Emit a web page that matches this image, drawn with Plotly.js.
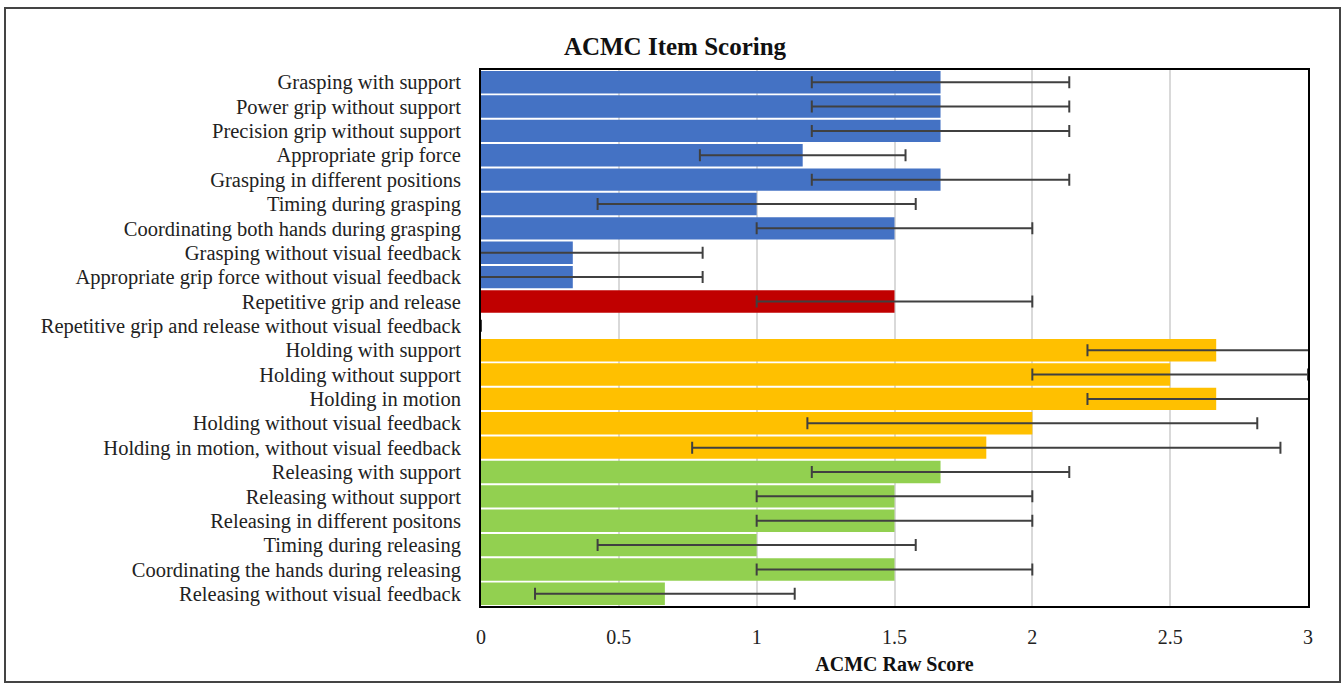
<!DOCTYPE html>
<html>
<head>
<meta charset="utf-8">
<script src="https://cdn.plot.ly/plotly-3.0.1.min.js"></script>
<style>html,body{margin:0;padding:0;background:#fff;}#chart{width:1343px;height:686px;}</style>
</head>
<body>
<div id="chart"></div>
<script>
const categories = [
  "Grasping with support",
  "Power grip without support",
  "Precision grip without support",
  "Appropriate grip force",
  "Grasping in different positions",
  "Timing during grasping",
  "Coordinating both hands during grasping",
  "Grasping without visual feedback",
  "Appropriate grip force without visual feedback",
  "Repetitive grip and release",
  "Repetitive grip and release without visual feedback",
  "Holding with support",
  "Holding without support",
  "Holding in motion",
  "Holding without visual feedback",
  "Holding in motion, without visual feedback",
  "Releasing with support",
  "Releasing without support",
  "Releasing in different positons",
  "Timing during releasing",
  "Coordinating the hands during releasing",
  "Releasing without visual feedback"
];
const scores = [1.667,1.667,1.667,1.167,1.667,1.0,1.5,0.333,0.333,1.5,0,2.667,2.5,2.667,2.0,1.833,1.667,1.5,1.5,1.0,1.5,0.667];
const errors = [0.467,0.467,0.467,0.373,0.467,0.577,0.5,0.471,0.471,0.5,0,0.467,0.5,0.467,0.816,1.067,0.467,0.5,0.5,0.577,0.5,0.471];
const groups = ["grasp","grasp","grasp","grasp","grasp","grasp","grasp","grasp","grasp","release","release","hold","hold","hold","hold","hold","rel","rel","rel","rel","rel","rel"];
const groupColors = {grasp:"#4472C4", release:"#C00000", hold:"#FFC000", rel:"#92D050"};
const xTicks = [0,0.5,1,1.5,2,2.5,3];

const L=481, R=1308, T=70, B=606, W=1343, H=686;
const pw=R-L, ph=B-T;
const px = v => (v-L)/pw;
const py = v => (B-v)/ph;

const trace = {
  type:"bar", orientation:"h",
  x: scores, y: categories,
  marker:{color: groups.map(g=>groupColors[g]), line:{width:0}},
  error_x:{type:"data", array: errors, visible:true, color:"#404040", thickness:2, width:6},
  hoverinfo:"x+y"
};

const layout = {
  width:W, height:H,
  margin:{l:L, r:W-R, t:T, b:H-B, pad:0},
  paper_bgcolor:"#fff", plot_bgcolor:"#fff",
  bargap:0.08,
  showlegend:false,
  font:{family:"Liberation Serif, Times New Roman, serif", color:"#222", size:16},
  title:{text:"<b>ACMC Item Scoring</b>", x:px(675), xref:"paper", xanchor:"center", y:1-46/H, yanchor:"middle", yref:"container", font:{size:25, color:"#111", family:"Liberation Serif, serif"}},
  xaxis:{range:[0,3], tickvals:xTicks, ticktext:xTicks.map(String), ticks:"", showgrid:true, gridcolor:"#d9d9d9", gridwidth:2,
    showline:true, mirror:true, linecolor:"#000", linewidth:2, zeroline:false,
    ticklabelstandoff:12, tickfont:{size:20, color:"#222"},
    title:{text:"<b>ACMC Raw Score</b>", font:{size:20, color:"#111"}, standoff:10}},
  yaxis:{autorange:"reversed", ticks:"", tickmode:"array", tickvals:categories, ticktext:categories,
    showline:true, mirror:true, linecolor:"#000", linewidth:2, showgrid:false,
    tickfont:{size:20.5, color:"#222"}, ticklabelstandoff:14},
  shapes:[{type:"rect", xref:"paper", yref:"paper", x0:px(5), x1:px(1340), y0:py(682), y1:py(8), line:{color:"#444", width:2}, fillcolor:"rgba(0,0,0,0)", layer:"below"}]
};

Plotly.newPlot("chart",[trace],layout,{displayModeBar:false, staticPlot:true});
</script>
</body>
</html>
